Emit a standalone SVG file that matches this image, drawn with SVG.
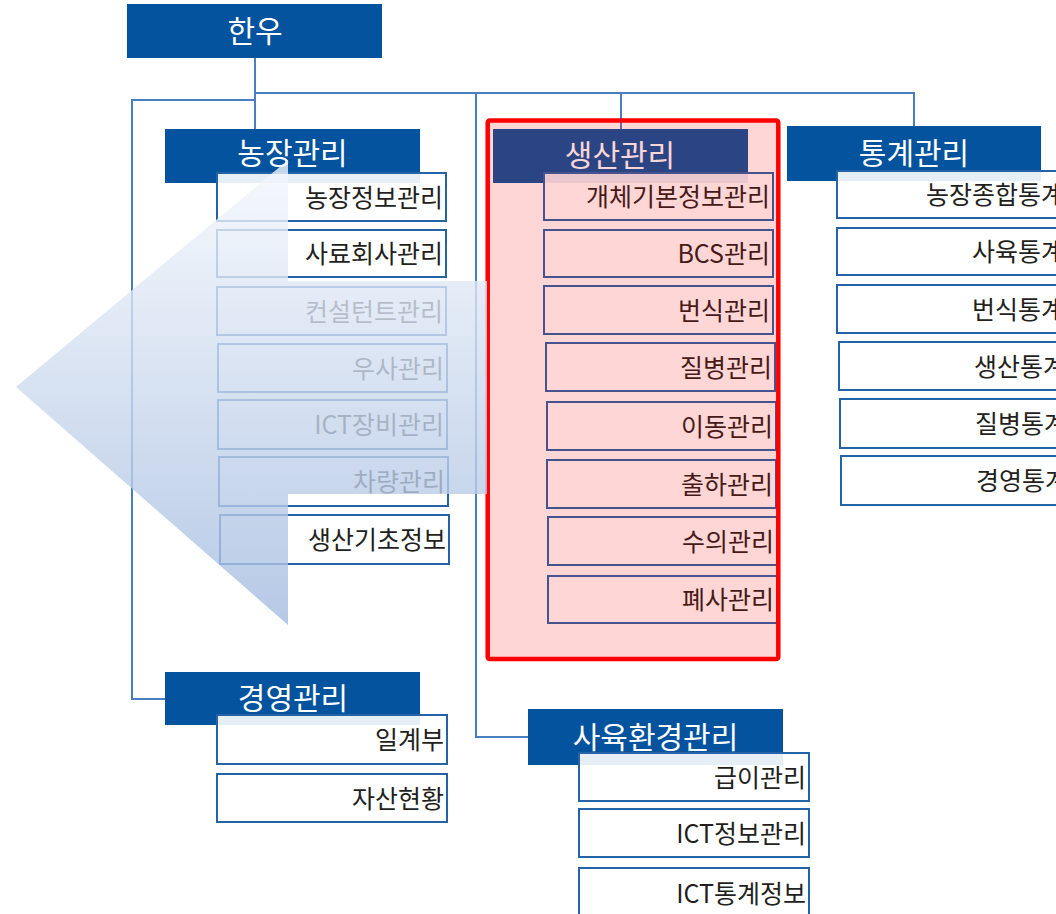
<svg xmlns="http://www.w3.org/2000/svg" width="1056" height="914" viewBox="0 0 1056 914">
<style>
.hd{fill:#03539e}
.hdt{fill:#ffffff;font-family:"Noto Sans CJK KR","Noto Sans",sans-serif;font-size:30px;text-anchor:middle}
.bx{fill:#ffffff;fill-opacity:0.9;stroke:#2563a8;stroke-width:2}
.bt{fill:#231f20;font-family:"Noto Sans CJK KR","Noto Sans",sans-serif;font-size:25px;text-anchor:end}
.cn{fill:none;stroke:#4a7fbf;stroke-width:2}
</style>
<defs>
<linearGradient id="ag" gradientUnits="userSpaceOnUse" x1="0" y1="160" x2="0" y2="625">
<stop offset="0" stop-color="#f5f8fd"/>
<stop offset="1" stop-color="#a3bbdf"/>
</linearGradient>
</defs>
<rect width="1056" height="914" fill="#ffffff"/>
<g id="connectors">
<path class="cn" d="M255 58V129"/>
<path class="cn" d="M255 93H914V126"/>
<path class="cn" d="M255 100H132V699H165"/>
<path class="cn" d="M621 93V129"/>
<path class="cn" d="M476 93V737H528"/>
</g>
<g id="n-hanwoo"><rect class="hd" x="127" y="4" width="255" height="54"/><text class="hdt" x="255" y="42" font-size="31">한우</text></g>
<g id="n-farm">
<rect class="hd" x="165" y="129" width="255" height="54"/><text class="hdt" x="292.5" y="164">농장관리</text>
<g id="n-farm-1"><rect class="bx" x="217" y="173" width="229" height="48"/><text class="bt" x="443" y="206.5">농장정보관리</text></g>
<g id="n-farm-2"><rect class="bx" x="217" y="230" width="229" height="47"/><text class="bt" x="443" y="263">사료회사관리</text></g>
<g id="n-farm-3"><rect class="bx" x="217" y="287" width="229" height="48"/><text class="bt" x="443" y="320.5">컨설턴트관리</text></g>
<g id="n-farm-4"><rect class="bx" x="218" y="344" width="229" height="48"/><text class="bt" x="444" y="377.5">우사관리</text></g>
<g id="n-farm-5"><rect class="bx" x="218" y="400" width="229" height="49"/><text class="bt" x="444" y="434">ICT장비관리</text></g>
<g id="n-farm-6"><rect class="bx" x="219" y="457" width="229" height="49"/><text class="bt" x="445" y="491">차량관리</text></g>
<g id="n-farm-7"><rect class="bx" x="220" y="515" width="229" height="49"/><text class="bt" x="446" y="549">생산기초정보</text></g>
</g>
<g id="n-prod">
<rect class="hd" x="493" y="129" width="255" height="54"/><text class="hdt" x="620" y="166">생산관리</text>
<g id="n-prod-1"><rect class="bx" x="544" y="173" width="229" height="47"/><text class="bt" x="770" y="206">개체기본정보관리</text></g>
<g id="n-prod-2"><rect class="bx" x="544" y="230" width="229" height="47"/><text class="bt" x="770" y="263">BCS관리</text></g>
<g id="n-prod-3"><rect class="bx" x="544" y="286" width="229" height="48"/><text class="bt" x="770" y="319.5">번식관리</text></g>
<g id="n-prod-4"><rect class="bx" x="546" y="343" width="229" height="48"/><text class="bt" x="772" y="376.5">질병관리</text></g>
<g id="n-prod-5"><rect class="bx" x="547" y="402" width="229" height="48"/><text class="bt" x="773" y="435.5">이동관리</text></g>
<g id="n-prod-6"><rect class="bx" x="547" y="460" width="229" height="48"/><text class="bt" x="773" y="493.5">출하관리</text></g>
<g id="n-prod-7"><rect class="bx" x="548" y="517" width="229" height="48"/><text class="bt" x="774" y="550.5">수의관리</text></g>
<g id="n-prod-8"><rect class="bx" x="548" y="576" width="229" height="47"/><text class="bt" x="774" y="609">폐사관리</text></g>
</g>
<g id="n-stat">
<rect class="hd" x="787" y="126" width="254" height="55"/><text class="hdt" x="914" y="164">통계관리</text>
<g id="n-stat-1"><rect class="bx" x="837" y="171" width="229" height="47"/><text class="bt" x="1064" y="204">농장종합통계</text></g>
<g id="n-stat-2"><rect class="bx" x="837" y="228" width="229" height="47"/><text class="bt" x="1064" y="261">사육통계</text></g>
<g id="n-stat-3"><rect class="bx" x="837" y="285" width="229" height="48"/><text class="bt" x="1064" y="318.5">번식통계</text></g>
<g id="n-stat-4"><rect class="bx" x="839" y="342" width="229" height="48"/><text class="bt" x="1066" y="375.5">생산통계</text></g>
<g id="n-stat-5"><rect class="bx" x="840" y="399" width="229" height="49"/><text class="bt" x="1067" y="433">질병통계</text></g>
<g id="n-stat-6"><rect class="bx" x="841" y="456" width="229" height="49"/><text class="bt" x="1068" y="490">경영통계</text></g>
</g>
<g id="n-mgmt">
<rect class="hd" x="165" y="672" width="255" height="53"/><text class="hdt" x="293" y="709">경영관리</text>
<g id="n-mgmt-1"><rect class="bx" x="217" y="715" width="230" height="49"/><text class="bt" x="444" y="749">일계부</text></g>
<g id="n-mgmt-2"><rect class="bx" x="217" y="774" width="230" height="48"/><text class="bt" x="444" y="807.5">자산현황</text></g>
</g>
<g id="n-env">
<rect class="hd" x="528" y="709" width="255" height="56"/><text class="hdt" x="655.5" y="748">사육환경관리</text>
<g id="n-env-1"><rect class="bx" x="579" y="753" width="230" height="48"/><text class="bt" x="806" y="786.5">급이관리</text></g>
<g id="n-env-2"><rect class="bx" x="579" y="809" width="230" height="48"/><text class="bt" x="806" y="842.5">ICT정보관리</text></g>
<g id="n-env-3"><rect class="bx" x="579" y="868" width="230" height="50"/><text class="bt" x="806" y="902.5">ICT통계정보</text></g>
</g>
<g id="highlight">
<rect x="487.7" y="120.5" width="290.6" height="538.5" rx="2" fill="#ff0000" fill-opacity="0.16" stroke="#ff0000" stroke-width="4.5"/>
</g>
<g id="big-arrow">
<polygon points="16,387 288,160 288,281 487,281 487,494 288,494 288,625" fill="url(#ag)" fill-opacity="0.8"/>
</g>
</svg>
